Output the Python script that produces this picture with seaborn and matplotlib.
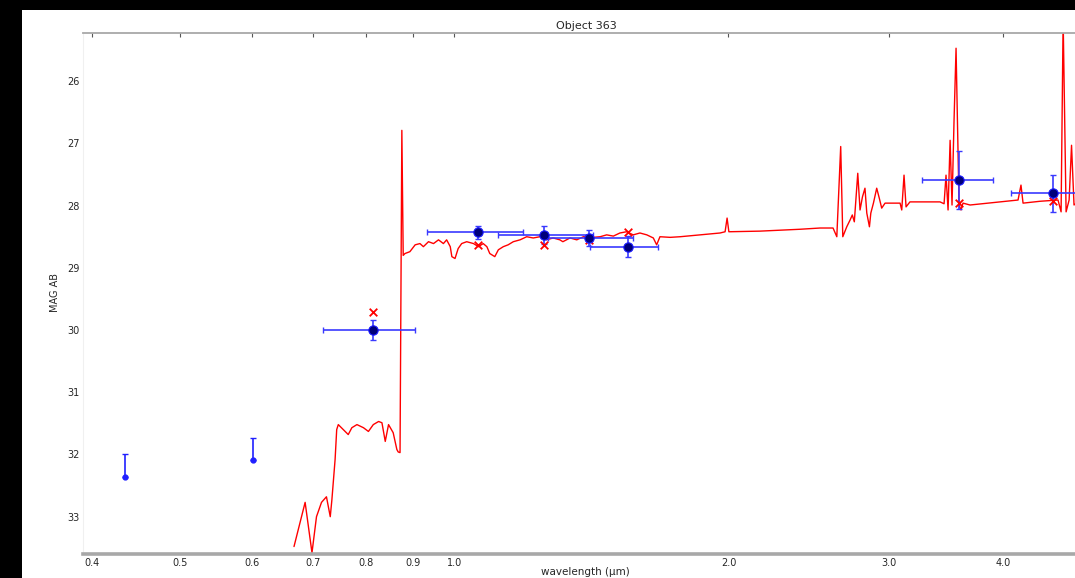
import matplotlib
matplotlib.use("Agg")
import matplotlib.pyplot as plt
from matplotlib.patches import Rectangle
from matplotlib.ticker import FixedLocator, FixedFormatter, NullLocator
import seaborn as sns
import pandas as pd
import numpy as np

# ---------------- data ----------------
title = "Object 363"
xlabel = "wavelength (μm)"
ylabel = "MAG AB"

x_ticks = [0.4, 0.5, 0.6, 0.7, 0.8, 0.9, 1.0, 2.0, 3.0, 4.0]
x_tick_labels = ["0.4", "0.5", "0.6", "0.7", "0.8", "0.9", "1.0", "2.0", "3.0", "4.0"]
y_ticks = [26, 27, 28, 29, 30, 31, 32, 33]

# model spectrum (wavelength in micron, AB mag)
spec_wave = [
    0.667, 0.686, 0.698, 0.706, 0.715, 0.724, 0.731, 0.734, 0.740, 0.743,
    0.746, 0.759, 0.765, 0.772, 0.782, 0.795, 0.805, 0.815, 0.826, 0.833,
    0.840, 0.847, 0.857, 0.865, 0.868, 0.872, 0.876, 0.879,
    0.883, 0.894, 0.906, 0.917, 0.925, 0.937, 0.949, 0.961, 0.973, 0.981,
    0.990, 0.994, 1.002, 1.010, 1.019, 1.032, 1.050, 1.063, 1.076, 1.086,
    1.094, 1.108, 1.118, 1.132, 1.146, 1.161, 1.181, 1.201, 1.221, 1.242,
    1.263, 1.284, 1.306, 1.316, 1.340, 1.363, 1.386, 1.421, 1.446, 1.470,
    1.495, 1.520, 1.546, 1.572, 1.599, 1.627, 1.654, 1.668, 1.682, 1.726,
    1.770, 1.862, 1.958, 1.983, 1.993, 2.002, 2.166, 2.396,
    2.521, 2.605, 2.630, 2.656, 2.670, 2.697, 2.720, 2.735, 2.749, 2.773,
    2.789, 2.806, 2.824, 2.837, 2.856, 2.866, 2.885, 2.909, 2.928, 2.946,
    2.971, 3.086, 3.099, 3.117, 3.133, 3.164, 3.414,
    3.449, 3.466, 3.484, 3.502, 3.519, 3.537, 3.555, 3.573, 3.582, 3.600,
    3.618, 3.683, 3.973, 4.158, 4.189, 4.211, 4.396, 4.600, 4.636, 4.660,
    4.695, 4.731, 4.760, 4.790, 4.864, 4.990,
]
spec_mag = [
    33.48, 32.77, 33.58, 33.00, 32.77, 32.68, 33.00, 32.73, 32.08, 31.60,
    31.52, 31.63, 31.68, 31.57, 31.52, 31.57, 31.63, 31.52, 31.47, 31.49,
    31.79, 31.52, 31.65, 31.92, 31.96, 31.97, 26.79, 28.80,
    28.77, 28.74, 28.63, 28.61, 28.66, 28.58, 28.61, 28.55, 28.61, 28.55,
    28.66, 28.82, 28.85, 28.69, 28.61, 28.58, 28.61, 28.66, 28.61, 28.66,
    28.77, 28.82, 28.71, 28.66, 28.63, 28.58, 28.55, 28.50, 28.52, 28.50,
    28.55, 28.52, 28.55, 28.58, 28.52, 28.55, 28.50, 28.51, 28.50, 28.47,
    28.49, 28.44, 28.42, 28.47, 28.44, 28.47, 28.52, 28.63, 28.50, 28.51,
    28.50, 28.47, 28.44, 28.42, 28.20, 28.42, 28.41, 28.38,
    28.36, 28.36, 28.50, 27.05, 28.50, 28.34, 28.23, 28.15, 28.26, 27.48,
    28.07, 27.86, 27.72, 28.12, 28.34, 28.12, 27.96, 27.72, 27.88, 28.04,
    27.96, 27.96, 28.07, 27.51, 28.02, 27.94, 27.94,
    27.97, 27.51, 28.07, 26.95, 27.99, 26.63, 25.47, 27.11, 27.99, 28.07,
    27.96, 27.99, 27.94, 27.91, 27.67, 27.96, 27.93, 27.91, 28.10, 25.00,
    28.10, 27.91, 27.03, 27.99, 27.91, 27.90,
]

# observed photometry
phot_wave = [0.814, 1.061, 1.256, 1.407, 1.550, 3.579, 4.539]
phot_mag = [30.00, 28.43, 28.47, 28.52, 28.66, 27.59, 27.80]
phot_wave_lo = [0.718, 0.933, 1.118, 1.266, 1.409, 3.260, 4.081]
phot_wave_hi = [0.906, 1.191, 1.420, 1.572, 1.675, 3.900, 5.050]
phot_mag_err = [0.16, 0.10, 0.14, 0.13, 0.17, 0.47, 0.30]
model_mag = [29.71, 28.64, 28.63, 28.55, 28.43, 27.95, 27.92]

# faint points (bar drawn only toward brighter magnitudes)
lim_wave = [0.435, 0.602]
lim_mag = [32.37, 32.09]
lim_bar = [0.37, 0.35]

# ---------------- figure ----------------
sns.set_style("white")
plt.rcParams["font.family"] = ["DejaVu Sans"]

W, H, DPI = 1075, 578, 100
fig = plt.figure(figsize=(W / DPI, H / DPI), dpi=DPI)
fig.patch.set_facecolor("black")
bg = Rectangle((22 / W, 0), 1 - 22 / W, 1 - 9.5 / H,
               transform=fig.transFigure, facecolor="white",
               edgecolor="none", zorder=-10)
fig.add_artist(bg)

ax_left, ax_right = 82.7 / W, 1091 / W
ax_bottom, ax_top = 1 - 554 / H, 1 - 33.3 / H
ax = fig.add_axes([ax_left, ax_bottom, ax_right - ax_left, ax_top - ax_bottom])
ax.set_zorder(5)
ax.set_facecolor("white")

spec_df = pd.DataFrame({"wave": spec_wave, "mag": spec_mag})
sns.lineplot(data=spec_df, x="wave", y="mag", sort=False, estimator=None,
             color="red", linewidth=1.0, ax=ax, zorder=2)

pw = np.array(phot_wave)
xerr = [pw - np.array(phot_wave_lo), np.array(phot_wave_hi) - pw]
ax.errorbar(phot_wave, phot_mag, xerr=xerr, yerr=phot_mag_err, fmt="none",
            ecolor="#3a3aff", elinewidth=1.2, capsize=2.5, capthick=1.0, zorder=3)

model_df = pd.DataFrame({"wave": phot_wave, "mag": model_mag})
sns.scatterplot(data=model_df, x="wave", y="mag", marker="x", color="red",
                s=30, linewidth=1.3, ax=ax, zorder=4)

phot_df = pd.DataFrame({"wave": phot_wave, "mag": phot_mag})
sns.scatterplot(data=phot_df, x="wave", y="mag", marker="o", color="#00007a",
                edgecolor="#1a1aff", s=45, linewidth=0.8, ax=ax, zorder=5)

ax.errorbar(lim_wave, lim_mag, yerr=[lim_bar, [0, 0]], fmt="o", color="#2020ff",
            ms=3.5, elinewidth=1.2, capsize=2.5, capthick=1.0, zorder=4)

ax.set_xscale("log")
ax.set_xlim(0.391, 5.0)
ax.set_ylim(33.6, 25.23)
ax.xaxis.set_major_locator(FixedLocator(x_ticks))
ax.xaxis.set_major_formatter(FixedFormatter(x_tick_labels))
ax.xaxis.set_minor_locator(NullLocator())
ax.yaxis.set_major_locator(FixedLocator(y_ticks))
ax.yaxis.set_major_formatter(FixedFormatter([str(v) for v in y_ticks]))

ax.tick_params(axis="both", direction="in", length=3, width=0.8, color="#555555",
               labelsize=7, pad=2, top=True)
ax.tick_params(axis="x", pad=3)

for side in ["left", "right"]:
    ax.spines[side].set_color("#f0f0f0")
    ax.spines[side].set_linewidth(0.8)
ax.spines["top"].set_color("#a8a8a8")
ax.spines["top"].set_linewidth(1.3)
ax.spines["bottom"].set_color("#a8a8a8")
ax.spines["bottom"].set_linewidth(2.6)

ax.set_title(title, fontsize=8, pad=3)
ax.set_xlabel("")
ax.set_ylabel("")
fig.text(585 / W, 1 - 572 / H, xlabel, fontsize=7.5, ha="center", va="center",
         zorder=6)
fig.text(55 / W, 1 - 293 / H, ylabel, fontsize=7, ha="center", va="center",
         rotation=90, zorder=6)

fig.savefig("out.png", dpi=DPI, facecolor=fig.get_facecolor())
